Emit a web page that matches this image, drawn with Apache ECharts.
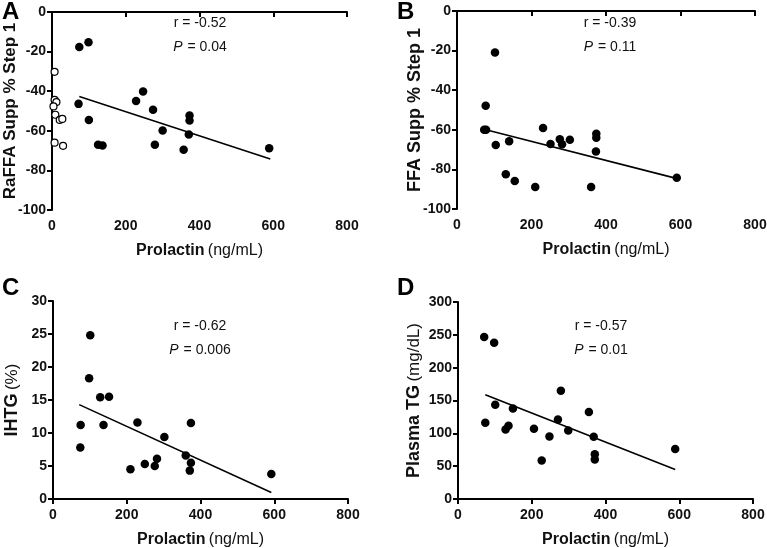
<!DOCTYPE html>
<html><head><meta charset="utf-8">
<script src="https://cdn.jsdelivr.net/npm/echarts@6/dist/echarts.min.js"></script>
<style>html,body{margin:0;padding:0;background:#fff}#c{width:767px;height:548px}</style>
</head><body><div id="c"></div>
<script>
// Panel A: RaFFA suppression vs prolactin
const aFilled = [[74,-17.7],[99,-15.3],[72,-46.4],[100,-54.6],[125,-67],[137,-67.4],[228,-45],[247,-40.1],[274,-49.4],[300,-59.9],[279,-67.1],[357,-69.6],[371,-61.9],[373,-52.3],[373,-54.8],[589,-68.8]];
const aOpen = [[7,-30.2],[7,-44.4],[12,-45.5],[4,-47.7],[9,-51.9],[21,-54.5],[28,-54],[7,-66],[30,-67.6]];
const aTrend = [[74,-42.7],[592,-74.2]];
// Panel B: FFA suppression
const bPoints = [[102,-21],[77,-47.8],[73,-60],[78,-60],[104,-67.7],[140,-65.8],[131,-82.5],[155,-85.9],[210,-88.9],[231,-59.1],[251,-67.2],[276,-64.8],[282,-67.3],[303,-65],[374,-62],[374,-64],[373,-71],[360,-88.9],[590,-84.2]];
const bTrend = [[75,-59.8],[586,-84.4]];
// Panel C: IHTG
const cPoints = [[75,11.2],[74,7.8],[101,24.8],[98,18.3],[128,15.4],[152,15.5],[137,11.2],[229,11.6],[210,4.5],[249,5.3],[276,5.0],[282,6.1],[302,9.4],[360,6.6],[374,11.5],[374,5.5],[371,4.3],[592,3.8]];
const cTrend = [[71,14.3],[592,1.0]];
// Panel D: Plasma TG
const dPoints = [[71,246.6],[98,238],[74,116],[101,143.7],[149,137.7],[129,105.9],[137,111.4],[206,107],[227,58.5],[248,95.3],[271,121],[279,165],[299,104.4],[355,132.6],[368,94.8],[371,68],[371,60],[589,76.1]];
const dTrend = [[74,158.9],[589,44.9]];

const stats = [['r = -0.52','0.04'],['r = -0.39','0.11'],['r = -0.62','0.006'],['r = -0.57','0.01']];
const letters = ['A','B','C','D'];
const yNames = [
  '{b|RaFFA Supp % Step 1}',
  '{b|FFA Supp % Step 1}',
  '{b|IHTG} {n|(%)}',
  '{b|Plasma TG} {n|(mg/dL)}'
];
const yRanges = [[-100,0,20],[-100,0,20],[0,30,5],[0,300,50]];

const FONT = 'Liberation Sans, Arial, sans-serif';
const grids = [
  {left:52, top:12, width:295, height:198},
  {left:457, top:11, width:298, height:198},
  {left:53, top:301, width:295, height:198},
  {left:458, top:302, width:295, height:197}
];
const axisLine = {lineStyle:{color:'#000', width:2}};
const axisTick = {length:5, lineStyle:{color:'#000', width:2}};
const tickLabel = {color:'#111', fontWeight:'bold', fontSize:14, fontFamily:FONT};
const yNameSize = [17,18,18,18];
const yNameGap = [33,33,32,35];

const option = {
  animation:false,
  backgroundColor:'#fff',
  grid: grids.map(g => Object.assign({outerBoundsMode:'none', containLabel:false}, g)),
  xAxis: grids.map((g,i) => ({
    type:'value', gridIndex:i, min:0, max:800, interval:200,
    splitLine:{show:false}, axisLine, axisTick,
    axisLabel:Object.assign({margin:9}, tickLabel),
    name:'{b|Prolactin} {n|(ng/mL)}', nameLocation:'middle', nameGap:33, nameMoveOverlap:false,
    nameTextStyle:{rich:{b:{fontWeight:'bold',fontSize:16,fontFamily:FONT,color:'#111'},n:{fontSize:16,fontFamily:FONT,color:'#111'}}}
  })),
  yAxis: grids.map((g,i) => ({
    type:'value', gridIndex:i, min:yRanges[i][0], max:yRanges[i][1], interval:yRanges[i][2],
    splitLine:{show:false}, axisLine:Object.assign({onZero:false}, axisLine), axisTick,
    axisLabel:Object.assign({margin:6}, tickLabel),
    name:yNames[i], nameLocation:'middle', nameGap: yNameGap[i], nameRotate:90, nameMoveOverlap:false,
    nameTextStyle:{rich:{b:{fontWeight:'bold',fontSize:yNameSize[i],fontFamily:FONT,color:'#111'},n:{fontSize:17,fontFamily:FONT,color:'#111'}}}
  })),
  title: [
    ...letters.map((l,i) => ({
      text:l, left: i%2===0 ? 2 : 397, top: i<2 ? 0 : 276,
      textStyle:{fontSize:24, fontWeight:'bold', fontFamily:FONT, color:'#000'}, padding:0
    })),
    ...stats.map((s,i) => ({
      text:'{n|' + s[0] + '}\n{i|P} {n|= ' + s[1] + '}',
      left: [200,610,200,601][i], top: [11,11,314,314][i], textAlign:'center',
      padding:0,
      textStyle:{fontWeight:'normal', rich:{
        n:{fontSize:14, fontWeight:'normal', fontFamily:FONT, color:'#111', lineHeight:24},
        i:{fontSize:14, fontWeight:'normal', fontFamily:FONT, color:'#111', fontStyle:'italic', lineHeight:24}
      }}
    }))
  ],
  series: [
    {type:'scatter', xAxisIndex:0, yAxisIndex:0, data:aFilled, symbolSize:8.5, itemStyle:{color:'#000', opacity:1}},
    {type:'scatter', xAxisIndex:0, yAxisIndex:0, data:aOpen, symbolSize:7, itemStyle:{color:'#fff', borderColor:'#000', borderWidth:1.2, opacity:1}},
    {type:'line', xAxisIndex:0, yAxisIndex:0, data:aTrend, symbol:'none', lineStyle:{color:'#000', width:1.6}},
    {type:'scatter', xAxisIndex:1, yAxisIndex:1, data:bPoints, symbolSize:8.5, itemStyle:{color:'#000', opacity:1}},
    {type:'line', xAxisIndex:1, yAxisIndex:1, data:bTrend, symbol:'none', lineStyle:{color:'#000', width:1.6}},
    {type:'scatter', xAxisIndex:2, yAxisIndex:2, data:cPoints, symbolSize:8.5, itemStyle:{color:'#000', opacity:1}},
    {type:'line', xAxisIndex:2, yAxisIndex:2, data:cTrend, symbol:'none', lineStyle:{color:'#000', width:1.6}},
    {type:'scatter', xAxisIndex:3, yAxisIndex:3, data:dPoints, symbolSize:8.5, itemStyle:{color:'#000', opacity:1}},
    {type:'line', xAxisIndex:3, yAxisIndex:3, data:dTrend, symbol:'none', lineStyle:{color:'#000', width:1.6}}
  ]
};
echarts.init(document.getElementById('c'), null, {renderer:'canvas'}).setOption(option);
</script></body></html>
